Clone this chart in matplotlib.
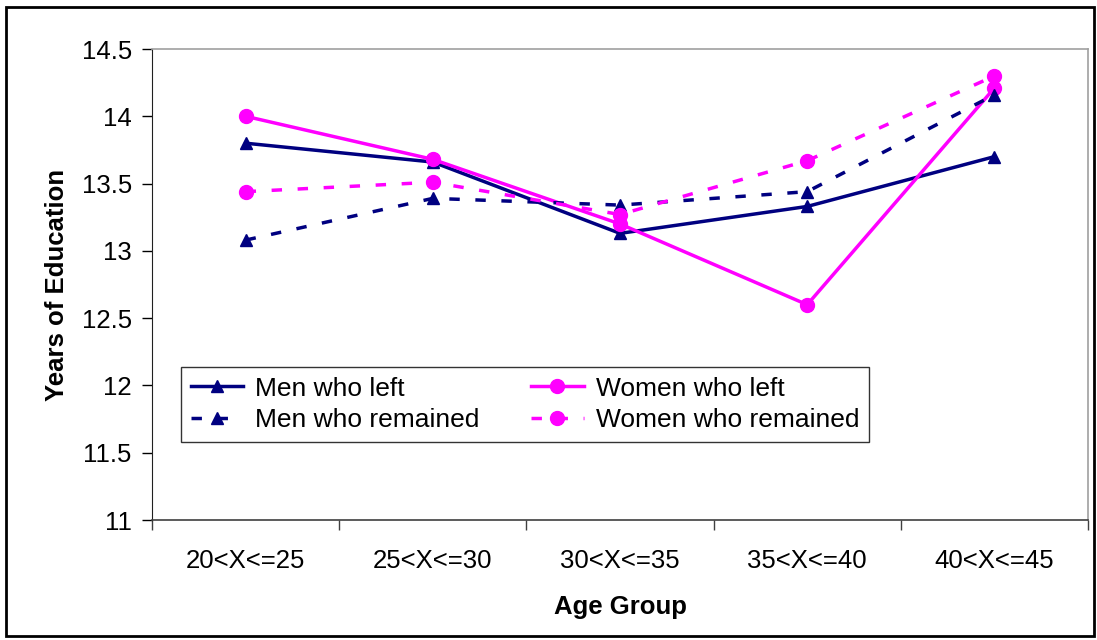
import matplotlib.pyplot as plt
from matplotlib.patches import Rectangle

plt.rcParams['font.family'] = ['Liberation Sans', 'DejaVu Sans']

# Mean years of education per age group
age_groups = ["20<X<=25", "25<X<=30", "30<X<=35", "35<X<=40", "40<X<=45"]
men_left = [13.80, 13.66, 13.13, 13.33, 13.70]
women_left = [14.00, 13.68, 13.20, 12.60, 14.21]
men_remained = [13.08, 13.39, 13.34, 13.44, 14.16]
women_remained = [13.44, 13.51, 13.27, 13.67, 14.30]

navy = "#000080"
magenta = "#FF00FF"

fig = plt.figure(figsize=(10.97, 6.4), dpi=100)
ax = fig.add_axes([152 / 1097, 1 - 520 / 640, (1088 - 152) / 1097, (520 - 49) / 640])

x = list(range(len(age_groups)))
dash = (0, (3, 4.5))

ax.plot(x, men_left, color=navy, lw=2.5, marker="^", ms=9, label="Men who left")
ax.plot(x, women_left, color=magenta, lw=2.5, marker="o", ms=10, label="Women who left")
ax.plot(x, men_remained, color=navy, lw=2.5, ls=dash, marker="^", ms=9,
        label="Men who remained")
ax.plot(x, women_remained, color=magenta, lw=2.5, ls=dash, marker="o", ms=10,
        label="Women who remained")

ax.set_xlim(-0.5, len(age_groups) - 0.5)
ax.set_ylim(11, 14.5)
ax.set_yticks([11, 11.5, 12, 12.5, 13, 13.5, 14, 14.5])
ax.set_yticklabels(["11", "11.5", "12", "12.5", "13", "13.5", "14", "14.5"])

# category labels centred, tick marks between categories
ax.set_xticks(x)
ax.set_xticklabels(age_groups)
ax.set_xticks([i - 0.5 for i in range(len(age_groups) + 1)], minor=True)
ax.tick_params(axis="x", which="major", length=0, pad=21, labelsize=18.5)
ax.tick_params(axis="x", which="minor", length=7.5, width=1, color="#404040",
               direction="out")
ax.tick_params(axis="y", length=7.5, width=1, direction="out", pad=7, labelsize=18.5)

for side in ["top", "right"]:
    ax.spines[side].set_color("#a0a0a0")
    ax.spines[side].set_linewidth(1.2)
ax.spines["left"].set_color("#202020")
ax.spines["bottom"].set_color("#404040")
ax.spines["bottom"].set_linewidth(1.2)

ax.set_ylabel("Years of Education", fontsize=18.5, fontweight="bold", labelpad=9)
ax.set_xlabel("Age Group", fontsize=18.5, fontweight="bold", labelpad=16)

handles, labels = ax.get_legend_handles_labels()
order = [0, 2, 1, 3]
leg = fig.legend([handles[i] for i in order], [labels[i] for i in order],
                 loc="upper left", bbox_to_anchor=(181 / 1097, 1 - 367 / 640),
                 ncol=2, fontsize=19, frameon=True, fancybox=False,
                 borderaxespad=0, handlelength=2.0, handletextpad=0.45,
                 columnspacing=1.95, labelspacing=0.3, borderpad=0.36)
leg.get_frame().set_edgecolor("black")
leg.get_frame().set_linewidth(1.0)

# outer chart border
fig.patches.append(Rectangle((6 / 1097, 4 / 640), 1088 / 1097, 629 / 640,
                             transform=fig.transFigure, fill=False,
                             edgecolor="black", lw=2))

fig.savefig("out.png", dpi=100)
